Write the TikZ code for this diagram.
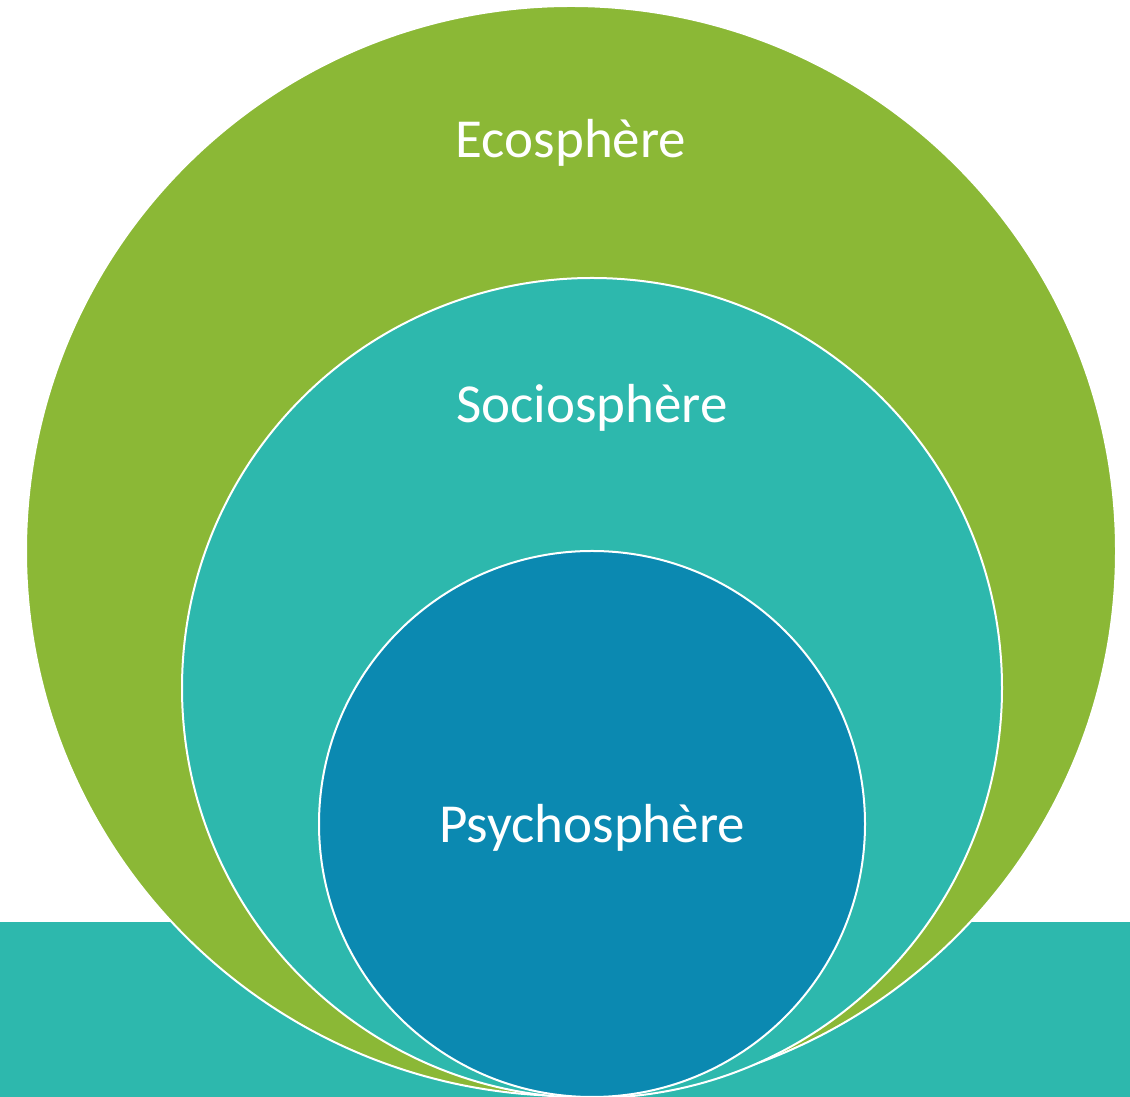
\documentclass[tikz,border=0pt]{standalone}
\usepackage{fontspec}
\setmainfont{Carlito}
\definecolor{ecogreen}{HTML}{8BB836}
\definecolor{socioteal}{HTML}{2DB8AD}
\definecolor{psychoblue}{HTML}{0B89B1}
\tikzset{
    sphere/.style = {circle,
                    draw=white,
                    line width=2pt,
                    inner sep=0pt},
    label/.style =  {text=white,
                    font=\fontsize{55}{64}\selectfont},
    base/.style =   {fill=socioteal,
                    draw=none}}
\begin{document}
\begin{tikzpicture}[x=1pt,y=1pt]
                \useasboundingbox (0,0) rectangle (1130,1097);
                \fill[white] (0,0) rectangle (1130,1097);
                \fill[base] (0,0) rectangle (1130,175);
                \node[sphere, fill=ecogreen, minimum size=1090pt]   (eco)    at (571,546) {};
                \node[sphere, fill=socioteal, minimum size=820pt]   (socio)  at (592,409) {};
                \node[sphere, fill=psychoblue, minimum size=546pt]  (psycho) at (592,273) {};
                \node[label] (ecolabel)    at (571,954) {Ecosphère};
                \node[label] (sociolabel)  at (592,689) {Sociosphère};
                \node[label] (psycholabel) at (592,269) {Psychosphère};
        \end{tikzpicture}
\end{document}
